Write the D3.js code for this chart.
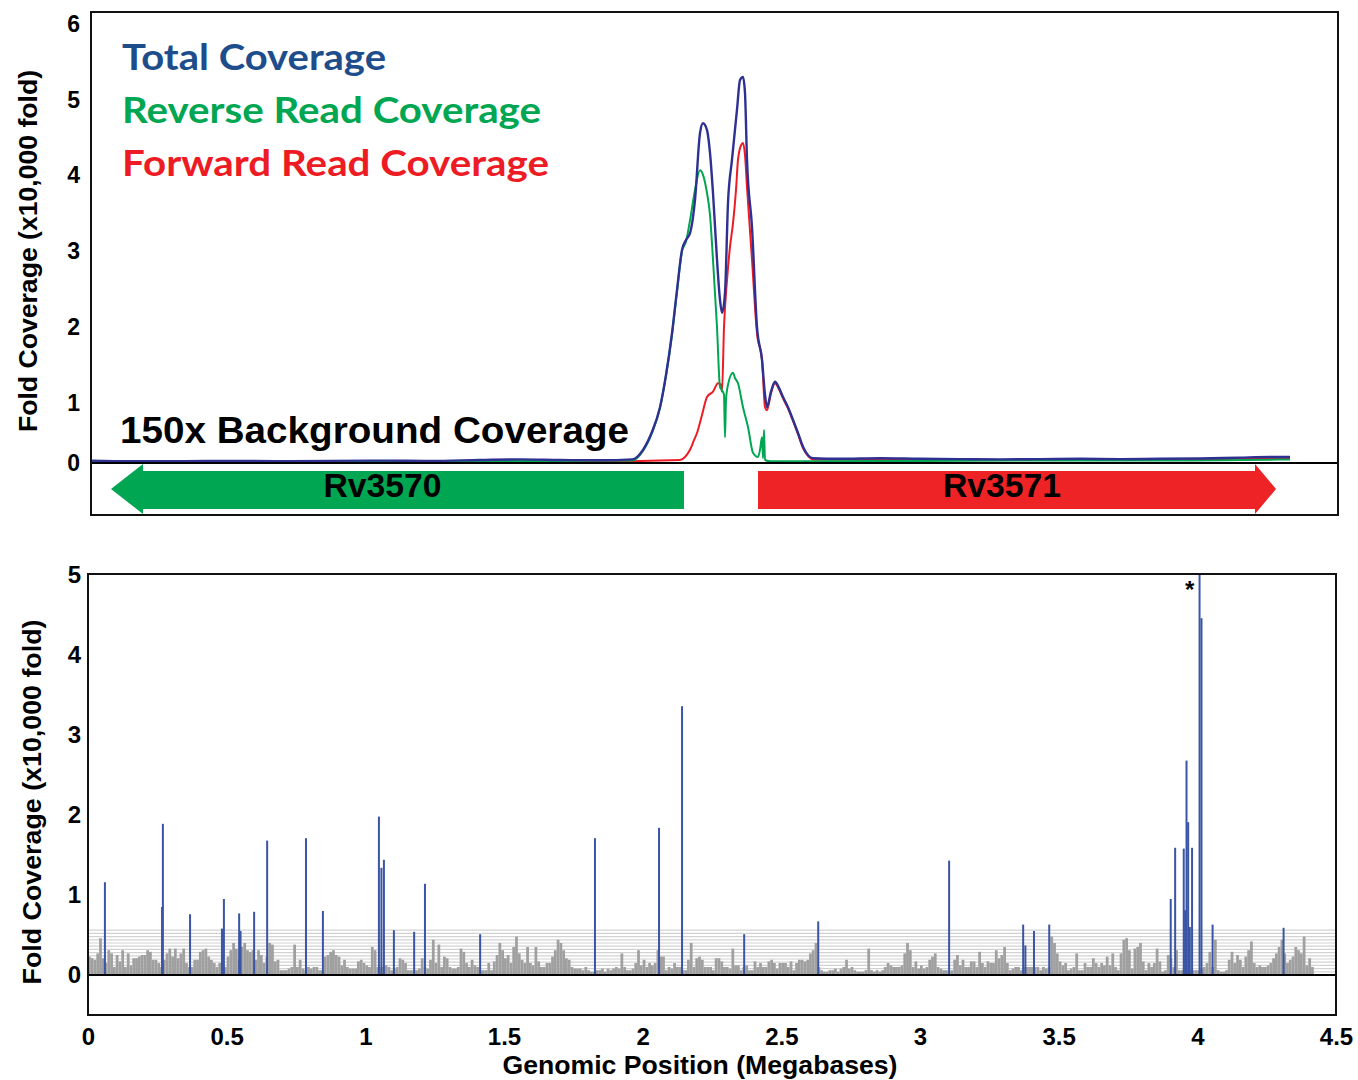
<!DOCTYPE html>
<html><head><meta charset="utf-8">
<script src="https://cdn.jsdelivr.net/npm/d3@7"></script>
<style>body{margin:0;background:#fff}svg{display:block}</style>
</head><body>
<svg id="chart" width="1358" height="1080"></svg>
<script>
// ---------- DATA ----------
// Top panel: coverage (x10,000 fold) vs relative position (bp) across the Rv3570/Rv3571 region
const totalCoverage = [[0,0.04],[39,0.03],[89,0.03],[139,0.035],[189,0.03],[239,0.035],[289,0.04],[339,0.035],[389,0.05],[429,0.06],[469,0.05],[509,0.045],[541,0.06],[552,0.22],[561,0.52],[569,0.93],[575,1.37],[581,1.92],[586,2.49],[591,3.02],[595,3.15],[599,3.24],[604,3.68],[609,4.56],[612,4.69],[616,4.60],[619,4.30],[622,3.77],[626,2.89],[629,2.36],[631,2.19],[634,2.45],[637,3.64],[641,4.21],[646,4.87],[649,5.26],[652,5.30],[654,5.09],[656,4.21],[661,3.32],[666,2.00],[671,1.57],[674,1.11],[676,0.93],[680,1.15],[684,1.28],[688,1.20],[692,1.08],[697,0.93],[702,0.72],[707,0.50],[712,0.27],[717,0.13],[722,0.08],[749,0.07],[789,0.08],[829,0.07],[869,0.065],[909,0.06],[949,0.065],[989,0.07],[1029,0.065],[1069,0.07],[1109,0.075],[1149,0.09],[1179,0.1],[1199,0.1]];
const reverseCoverage = [[0,0.02],[89,0.02],[189,0.025],[289,0.02],[389,0.03],[469,0.035],[541,0.04],[552,0.2],[561,0.5],[569,0.92],[575,1.36],[581,1.9],[586,2.47],[591,3.0],[595,3.13],[599,3.41],[604,3.81],[609,4.07],[612,4.01],[616,3.77],[619,3.48],[622,2.89],[626,2.0],[629,1.21],[631,1.17],[633,1.11],[634,0.43],[635,1.04],[637,1.24],[642,1.40],[644,1.33],[647,1.26],[652,0.93],[657,0.6],[662,0.17],[667,0.1],[669,0.22],[671,0.43],[672,0.08],[673,0.55],[674,0.05],[679,0.03],[729,0.03],[829,0.035],[929,0.04],[1029,0.04],[1129,0.045],[1199,0.06]];
const forwardCoverage = [[0,0.01],[189,0.015],[389,0.02],[489,0.02],[589,0.05],[594,0.1],[599,0.22],[603,0.38],[606,0.5],[611,0.8],[616,1.08],[622,1.15],[627,1.26],[630,1.24],[631,1.15],[633,2.0],[636,2.62],[639,3.06],[642,3.37],[645,3.81],[647,4.21],[650,4.40],[652,4.43],[654,4.27],[656,3.85],[661,2.89],[666,1.92],[671,1.57],[674,0.93],[676,0.88],[680,1.13],[684,1.26],[688,1.18],[692,1.06],[697,0.91],[702,0.7],[707,0.48],[712,0.25],[717,0.12],[722,0.06],[829,0.05],[1029,0.05],[1149,0.07],[1199,0.08]];
const seriesNames = ["Total Coverage","Reverse Read Coverage","Forward Read Coverage"];
const geneNames = ["Rv3570","Rv3571"];
const geneStart = [20, 667];
const geneEnd = [593, 1185];
const geneStrand = [-1, 1];
const topYTicks = [0,1,2,3,4,5,6];

// Bottom panel: genome-wide coverage
const bottomYTicks = [0,1,2,3,4,5];
const bottomXTicks = [0,0.5,1,1.5,2,2.5,3,3.5,4,4.5];
const bgBinSize = 0.01; // Mb
const bgValues = [
0.23,0.21,0.19,0.27,0.46,0.21,0.15,0.31,0.27,0.10,
0.25,0.17,0.31,0.10,0.27,0.12,0.21,0.21,0.23,0.25,
0.25,0.31,0.29,0.19,0.19,0.15,0.10,0.19,0.27,0.33,
0.23,0.33,0.21,0.27,0.33,0.15,0.10,0.10,0.19,0.19,
0.29,0.31,0.33,0.23,0.19,0.15,0.10,0.15,0.15,0.10,
0.23,0.31,0.40,0.33,0.19,0.35,0.40,0.31,0.29,0.31,
0.19,0.31,0.25,0.15,0.23,0.40,0.38,0.17,0.19,0.06,
0.06,0.06,0.08,0.10,0.38,0.10,0.19,0.08,0.06,0.10,
0.08,0.10,0.10,0.06,0.06,0.23,0.25,0.29,0.31,0.25,
0.23,0.12,0.19,0.10,0.08,0.08,0.08,0.17,0.19,0.15,
0.12,0.10,0.35,0.31,0.10,0.10,0.10,0.12,0.10,0.06,
0.08,0.10,0.21,0.19,0.15,
0.06,0.06,0.06,0.06,0.08,0.21,0.10,0.08,0.19,0.44,
0.15,0.38,0.10,0.23,0.21,0.10,0.08,0.08,0.10,0.33,
0.29,0.15,0.10,0.19,0.12,0.10,0.06,0.06,0.06,0.15,
0.06,0.17,0.25,0.40,0.31,0.21,0.25,0.15,0.35,0.48,
0.27,0.19,0.15,0.35,0.15,0.12,0.35,0.17,0.10,0.10,
0.15,0.15,0.23,0.31,0.44,0.40,0.31,0.21,0.19,0.10,
0.08,0.08,0.08,0.06,0.10,0.06,0.04,0.04,0.06,0.06,
0.08,0.04,0.08,0.06,0.08,0.10,0.08,0.27,0.10,0.06,
0.06,0.08,0.15,0.31,0.12,0.19,0.10,0.15,0.12,0.15,
0.31,0.23,0.23,0.06,0.10,0.08,0.15,0.10,0.10,0.06,
0.06,0.19,0.40,0.10,0.21,0.23,0.19,0.10,0.10,0.10,
0.06,0.21,0.21,
0.17,0.10,0.10,0.08,0.33,0.12,0.12,0.06,0.10,0.12,
0.06,0.06,0.17,0.10,0.15,0.10,0.10,0.17,0.19,0.15,
0.08,0.15,0.15,0.15,0.10,0.17,0.06,0.15,0.19,0.19,
0.17,0.19,0.27,0.31,0.40,0.10,0.06,0.04,0.04,0.06,
0.06,0.08,0.04,0.08,0.10,0.19,0.08,0.10,0.06,0.04,
0.04,0.04,0.06,0.33,0.06,0.04,0.06,0.04,0.06,0.10,
0.15,0.12,0.10,0.10,0.10,0.12,0.27,0.40,0.31,0.10,
0.17,0.08,0.12,0.08,0.10,0.19,0.23,0.27,0.10,0.08,
0.06,0.06,0.04,0.06,0.19,0.25,0.12,0.19,0.10,0.10,
0.17,0.17,0.10,0.29,0.15,0.10,0.17,0.15,0.15,0.31,
0.21,0.25,0.35,0.15,0.06,0.08,0.10,0.10,0.06,0.10,
0.10,0.10,0.10,0.10,
0.10,0.06,0.10,0.08,0.10,0.48,0.40,0.27,0.17,0.12,
0.15,0.06,0.08,0.10,0.27,0.06,0.06,0.15,0.10,0.10,
0.21,0.15,0.10,0.15,0.12,0.23,0.12,0.27,0.10,0.06,
0.27,0.44,0.46,0.31,0.08,0.33,0.35,0.40,0.17,0.06,
0.15,0.10,0.15,0.33,0.17,0.04,0.06,0.25,0.21,0.10,
0.31,0.06,0.06,0.04,0.06,0.06,0.06,0.06,0.06,0.08,
0.10,0.15,0.29,0.10,0.44,0.06,0.04,0.04,0.06,0.19,
0.29,0.15,0.25,0.19,0.10,0.23,0.31,0.42,0.15,0.10,
0.12,0.10,0.10,0.12,0.15,0.21,0.27,0.35,0.44,0.27,
0.15,0.19,0.23,0.35,0.31,0.27,0.48,0.12,0.21,0.10];
const bgLevels = [0.04,0.08,0.12,0.16,0.20,0.24,0.28,0.32,0.36,0.40,0.44,0.48,0.52,0.56];
const spikePos = [0.061,0.267,0.270,0.368,0.483,0.490,0.545,0.550,0.599,0.646,0.786,0.847,1.049,1.058,1.067,1.103,1.176,1.215,1.414,1.828,2.059,2.142,2.366,2.633,3.105,3.372,3.380,3.411,3.466,3.904,3.920,3.951,3.956,3.961,3.967,3.973,3.981,4.008,4.015,4.055,4.311];
const spikeVal = [1.16,0.85,1.89,0.76,0.58,0.95,0.77,0.55,0.79,1.68,1.71,0.80,1.98,1.34,1.44,0.56,0.54,1.14,0.51,1.71,1.84,3.36,0.51,0.67,1.43,0.63,0.37,0.55,0.63,0.95,1.59,1.58,0.81,2.68,1.91,0.60,1.59,5.00,4.46,0.63,0.59];
const offScaleMark = "*";

// ---------- DRAW ----------
const svg = d3.select("#chart");
const ARIAL = "'Liberation Sans', Arial, Helvetica, sans-serif";
const CAL = "Lato, 'Open Sans', sans-serif";
const colTotal = "#2e3192", colRev = "#00a651", colFwd = "#ed1c24";

// Top panel
const tx = d3.scaleLinear().domain([0, 1247]).range([91, 1338]);
const ty = d3.scaleLinear().domain([0, 1, 6]).range([463, 403, 24]);
const line = d3.line().x(d => tx(d[0])).y(d => ty(d[1])).curve(d3.curveMonotoneX);

svg.append("path").datum(forwardCoverage).attr("d", line).attr("fill","none").attr("stroke",colFwd).attr("stroke-width",2);
svg.append("path").datum(reverseCoverage).attr("d", line).attr("fill","none").attr("stroke",colRev).attr("stroke-width",2);
svg.append("path").datum(totalCoverage).attr("d", line).attr("fill","none").attr("stroke",colTotal).attr("stroke-width",2.4);

// gene arrows
const bandTop = 463, bandBot = 515, bodyTop = 471, bodyBot = 509, mid = 489;
const geneCol = [colRev, "#ee2326"];
const headLen = [32, 21];
geneNames.forEach((g, i) => {
  const s = tx(geneStart[i]), e = tx(geneEnd[i]);
  let pts;
  if (geneStrand[i] < 0) {
    const h = s + headLen[i];
    pts = [[s,mid],[h,bandTop+1],[h,bodyTop],[e,bodyTop],[e,bodyBot],[h,bodyBot],[h,bandBot-1]];
  } else {
    const h = e - headLen[i];
    pts = [[s,bodyTop],[h,bodyTop],[h,bandTop+1],[e,mid],[h,bandBot-1],[h,bodyBot],[s,bodyBot]];
  }
  svg.append("path").attr("d", d3.line()(pts) + "Z").attr("fill", geneCol[i]);
  svg.append("text").attr("x", (s+e)/2 - 15).attr("y", 497).attr("text-anchor","middle")
    .attr("font-family", ARIAL).attr("font-weight","bold").attr("font-size", 33)
    .attr("textLength", 118).attr("lengthAdjust","spacingAndGlyphs").text(g);
});

// zero line + frame
svg.append("line").attr("x1",91).attr("x2",1338).attr("y1",ty(0)).attr("y2",ty(0)).attr("stroke","#000").attr("stroke-width",2);
svg.append("rect").attr("x",91).attr("y",12).attr("width",1247).attr("height",503).attr("fill","none").attr("stroke","#111").attr("stroke-width",2);

// top y axis
const gTopY = svg.append("g").attr("transform","translate(91,0)")
  .call(d3.axisLeft(ty).tickValues(topYTicks).tickSize(0).tickPadding(11).tickFormat(d3.format("d")));
gTopY.select(".domain").remove();
gTopY.selectAll("text").attr("font-family", ARIAL).attr("font-weight","bold").attr("font-size",23).attr("fill","#000");
svg.append("text").attr("transform","translate(37,251) rotate(-90)").attr("text-anchor","middle")
  .attr("font-family", ARIAL).attr("font-weight","bold").attr("font-size",25)
  .attr("textLength",362).attr("lengthAdjust","spacingAndGlyphs").text("Fold Coverage (x10,000 fold)");

// legend
const legY = [70, 123, 176], legW = [264, 419, 427], legC = ["#1e4d8c", colRev, colFwd];
seriesNames.forEach((n, i) => {
  svg.append("text").attr("x",122).attr("y",legY[i]).attr("font-family",CAL).attr("font-weight","bold")
    .attr("font-size",37).attr("fill",legC[i]).attr("textLength",legW[i]).attr("lengthAdjust","spacingAndGlyphs").text(n);
});
svg.append("text").attr("x",120).attr("y",443).attr("font-family",ARIAL).attr("font-weight","bold")
  .attr("font-size",37).attr("fill","#000").attr("textLength",509).attr("lengthAdjust","spacingAndGlyphs")
  .text("150x Background Coverage");

// Bottom panel
const bx = d3.scaleLinear().domain([0, 4.5]).range([88, 1336]);
const by = d3.scaleLinear().domain([0, 5]).range([975, 575]);

svg.append("g").selectAll("line").data(bgLevels).join("line")
  .attr("x1", bx(0)).attr("x2", bx(4.5)).attr("y1", d => by(d)).attr("y2", d => by(d))
  .attr("stroke","#d2d2d2").attr("stroke-width",1.2);

svg.append("g").selectAll("rect").data(bgValues).join("rect")
  .attr("x", (d,i) => bx(i*bgBinSize))
  .attr("width", (d,i) => bx((i+1)*bgBinSize) - bx(i*bgBinSize))
  .attr("y", d => by(d)).attr("height", d => by(0) - by(d))
  .attr("fill","#a0a0a0");

svg.append("g").selectAll("rect").data(spikePos).join("rect")
  .attr("x", d => bx(d) - 1).attr("width", 2)
  .attr("y", (d,i) => by(spikeVal[i])).attr("height", (d,i) => by(0) - by(spikeVal[i]))
  .attr("fill","#3a55a5");

const maxI = spikeVal.indexOf(d3.max(spikeVal));
svg.append("text").attr("x", bx(spikePos[maxI]) - 10).attr("y", by(5) + 23).attr("text-anchor","middle")
  .attr("font-family", ARIAL).attr("font-weight","bold").attr("font-size",24).attr("fill","#000").text(offScaleMark);

svg.append("line").attr("x1",88).attr("x2",1336).attr("y1",by(0)).attr("y2",by(0)).attr("stroke","#000").attr("stroke-width",2);
svg.append("rect").attr("x",88).attr("y",574).attr("width",1248).attr("height",441).attr("fill","none").attr("stroke","#111").attr("stroke-width",2);

const gBY = svg.append("g").attr("transform","translate(88,0)")
  .call(d3.axisLeft(by).tickValues(bottomYTicks).tickSize(0).tickPadding(7).tickFormat(d3.format("d")));
gBY.select(".domain").remove();
gBY.selectAll("text").attr("font-family", ARIAL).attr("font-weight","bold").attr("font-size",24).attr("fill","#000");

const gBX = svg.append("g").attr("transform","translate(0,1015)")
  .call(d3.axisBottom(bx).tickValues(bottomXTicks).tickSize(0).tickPadding(13).tickFormat(d => String(d)));
gBX.select(".domain").remove();
gBX.selectAll("text").attr("font-family", ARIAL).attr("font-weight","bold").attr("font-size",24).attr("fill","#000");

svg.append("text").attr("transform","translate(41,802) rotate(-90)").attr("text-anchor","middle")
  .attr("font-family", ARIAL).attr("font-weight","bold").attr("font-size",25)
  .attr("textLength",365).attr("lengthAdjust","spacingAndGlyphs").text("Fold Coverage (x10,000 fold)");
svg.append("text").attr("x",700).attr("y",1074).attr("text-anchor","middle")
  .attr("font-family", ARIAL).attr("font-weight","bold").attr("font-size",25)
  .attr("textLength",395).attr("lengthAdjust","spacingAndGlyphs").text("Genomic Position (Megabases)");
</script>
</body></html>
